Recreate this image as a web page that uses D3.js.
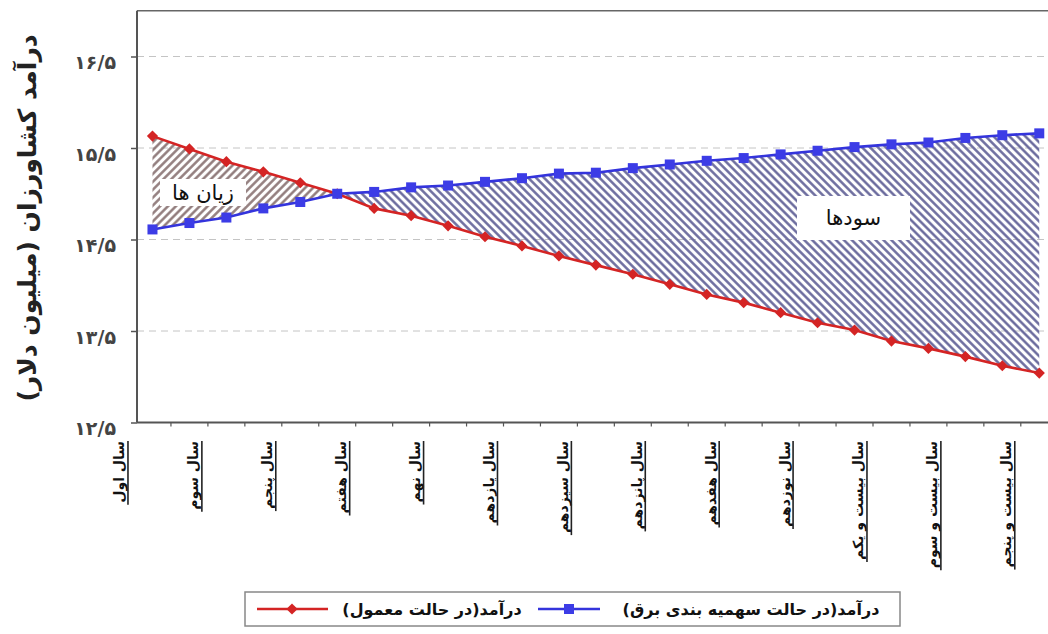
<!DOCTYPE html>
<html><head><meta charset="utf-8">
<script src="https://cdn.jsdelivr.net/npm/d3@7"></script>
<style>body{margin:0;background:#fff} svg{display:block}</style>
</head><body><svg id="c" width="1048" height="634"></svg>
<script>
const years = ["سال اول","سال دوم","سال سوم","سال چهارم","سال پنجم","سال ششم","سال هفتم","سال هشتم","سال نهم","سال دهم","سال یازدهم","سال دوازدهم","سال سیزدهم","سال چهاردهم","سال پانزدهم","سال شانزدهم","سال هفدهم","سال هجدهم","سال نوزدهم","سال بیستم","سال بیست و یکم","سال بیست و دوم","سال بیست و سوم","سال بیست و چهارم","سال بیست و پنجم"];
const normalIncome = [15.63,15.49,15.35,15.24,15.12,15.00,14.84,14.76,14.65,14.53,14.43,14.32,14.22,14.12,14.01,13.90,13.81,13.70,13.59,13.51,13.39,13.31,13.22,13.12,13.04];
const rationIncome = [14.61,14.68,14.74,14.84,14.91,15.00,15.02,15.07,15.09,15.13,15.17,15.22,15.23,15.28,15.32,15.36,15.39,15.43,15.47,15.51,15.54,15.56,15.61,15.64,15.66];
const yTickValues = [12.5,13.5,14.5,15.5,16.5];
const yTickLabels = ["۱۲/۵","۱۳/۵","۱۴/۵","۱۵/۵","۱۶/۵"];
const yTitle = "درآمد کشاورزان (میلیون دلار)";
const seriesNames = ["درآمد(در حالت معمول)","درآمد(در حالت سهمیه بندی برق)"];
const lossLabel = "زیان ها";
const profitLabel = "سودها";
const crossIndex = 5;

const svg = d3.select("#c");
const FONT = "'DejaVu Sans', sans-serif";
const left = 137, right = 1048, bottom = 422.5;
const step = 36.95;
const x = d3.scaleBand().domain(years).range([134, 134 + 25*step]).padding(0);
const cx = d => x(d) + x.bandwidth()/2;
const y = d3.scaleLinear().domain([12.5, 17]).range([bottom, bottom - 4.5*91.5]);

// patterns
const defs = svg.append("defs");
function hatch(id, color, angle){
  const p = defs.append("pattern").attr("id", id).attr("patternUnits","userSpaceOnUse")
    .attr("width", 5.6).attr("height", 10).attr("patternTransform", `rotate(${angle})`);
  p.append("line").attr("x1",1.4).attr("x2",1.4).attr("y1",0).attr("y2",10)
    .attr("stroke", color).attr("stroke-width", 2.4);
}
hatch("lossHatch", "#8e7878", 45);
hatch("profitHatch", "#66669a", -45);

// gridlines
svg.append("g").selectAll("line").data(yTickValues.filter(v => v > 12.5)).join("line")
  .attr("x1", left).attr("x2", right).attr("y1", d => y(d)).attr("y2", d => y(d))
  .attr("stroke", "#c4c4c4").attr("stroke-width", 1).attr("stroke-dasharray", "7,5");

// top border
svg.append("line").attr("x1", left).attr("x2", right).attr("y1", y(17)).attr("y2", y(17))
  .attr("stroke", "#666").attr("stroke-width", 1.5);

// areas
const idx = d3.range(years.length);
const area = d3.area().x(i => cx(years[i])).y0(i => y(rationIncome[i])).y1(i => y(normalIncome[i]));
svg.append("path").datum(idx.filter(i => i <= crossIndex)).attr("d", area).attr("fill", "url(#lossHatch)");
svg.append("path").datum(idx.filter(i => i >= crossIndex)).attr("d", area).attr("fill", "url(#profitHatch)");

// annotation labels
function boxLabel(txt, bx, by, bw, bh){
  svg.append("rect").attr("x", bx).attr("y", by).attr("width", bw).attr("height", bh).attr("fill", "#fff");
  svg.append("text").attr("x", bx + bw/2).attr("y", by + bh/2).attr("dy", "0.35em")
    .attr("text-anchor", "middle").attr("direction", "rtl")
    .attr("font-family", FONT).attr("font-size", 21).attr("fill", "#111").text(txt);
}
boxLabel(lossLabel, 160, 179, 86, 27);
boxLabel(profitLabel, 797, 196, 113, 44);

// lines
const lineGen = vals => d3.line().x((d,i) => cx(years[i])).y(d => y(d))(vals);
svg.append("path").attr("d", lineGen(normalIncome)).attr("fill","none").attr("stroke","#d42424").attr("stroke-width",2.6);
svg.append("path").attr("d", lineGen(rationIncome)).attr("fill","none").attr("stroke","#3434dc").attr("stroke-width",2.6);
const diamond = d3.symbol().type(d3.symbolDiamond2).size(80);
svg.append("g").selectAll("path").data(normalIncome).join("path")
  .attr("transform", (d,i) => `translate(${cx(years[i])},${y(d)})`).attr("d", diamond).attr("fill", "#d42424");
svg.append("g").selectAll("rect").data(rationIncome).join("rect")
  .attr("x", (d,i) => cx(years[i]) - 5).attr("y", d => y(d) - 5).attr("width", 10).attr("height", 10).attr("fill", "#3c3ce6");

// y axis
const ya = svg.append("g").attr("transform", `translate(${left},0)`)
  .call(d3.axisLeft(y).tickValues(yTickValues).tickFormat((d,i) => yTickLabels[i]).tickSize(6).tickPadding(15));
ya.select(".domain").attr("stroke", "#555").attr("stroke-width", 2).attr("d", `M0,${y(17)}V${bottom}`);
ya.selectAll(".tick line").attr("stroke", "#555").attr("stroke-width", 1.5);
ya.selectAll(".tick text").attr("font-family", FONT).attr("font-size", 19).attr("font-weight", "bold")
  .attr("fill", "#444").attr("dy", "0.65em");

// x axis
const xa = svg.append("g").attr("transform", `translate(0,${bottom})`)
  .call(d3.axisBottom(x).tickSize(4).tickFormat(""));
xa.select(".domain").attr("stroke", "#555").attr("stroke-width", 2).attr("d", `M${left},0H${right}`);
xa.selectAll(".tick line").attr("stroke", "#555").attr("stroke-width", 1.2)
  .attr("transform", `translate(${x.bandwidth()/2},0)`);

// x labels (every other year), rotated
const shown = years.filter((d,i) => i % 2 === 0);
const xl = svg.append("g");
shown.forEach(d => {
  const bx = cx(d) - 28, by = 441;
  const t = xl.append("text").attr("transform", `translate(${bx},${by}) rotate(-90)`)
    .attr("text-anchor", "end").attr("font-family", FONT).attr("font-size", 14).attr("font-weight", "bold")
    .attr("fill", "#111").text(d);
  const len = t.node().getComputedTextLength();
  xl.append("line").attr("x1", bx + 3.5).attr("x2", bx + 3.5).attr("y1", by).attr("y2", by + len + 2)
    .attr("stroke", "#222").attr("stroke-width", 1.6);
});

// y title
svg.append("text").attr("transform", "translate(36,218) rotate(-90)")
  .attr("text-anchor", "middle").attr("direction", "rtl")
  .attr("font-family", FONT).attr("font-size", 25).attr("font-weight", "bold").attr("fill", "#222").text(yTitle);

// legend
const lg = svg.append("g");
lg.append("rect").attr("x", 245).attr("y", 592).attr("width", 655).attr("height", 34)
  .attr("fill", "#fff").attr("stroke", "#888").attr("stroke-width", 1.5);
const ly = 609;
lg.append("line").attr("x1", 257).attr("x2", 328).attr("y1", ly).attr("y2", ly).attr("stroke", "#d42424").attr("stroke-width", 2.6);
lg.append("path").attr("transform", `translate(292,${ly})`).attr("d", diamond).attr("fill", "#d42424");
lg.append("text").attr("x", 432).attr("y", ly).attr("dy", "0.35em").attr("text-anchor", "middle").attr("direction", "rtl")
  .attr("font-family", FONT).attr("font-size", 16).attr("font-weight", "bold").attr("fill", "#111").text(seriesNames[0]);
lg.append("line").attr("x1", 538).attr("x2", 600).attr("y1", ly).attr("y2", ly).attr("stroke", "#3434dc").attr("stroke-width", 2.6);
lg.append("rect").attr("x", 564).attr("y", ly - 5).attr("width", 10).attr("height", 10).attr("fill", "#3c3ce6");
lg.append("text").attr("x", 751).attr("y", ly).attr("dy", "0.35em").attr("text-anchor", "middle").attr("direction", "rtl")
  .attr("font-family", FONT).attr("font-size", 16).attr("font-weight", "bold").attr("fill", "#111").text(seriesNames[1]);
</script></body></html>
